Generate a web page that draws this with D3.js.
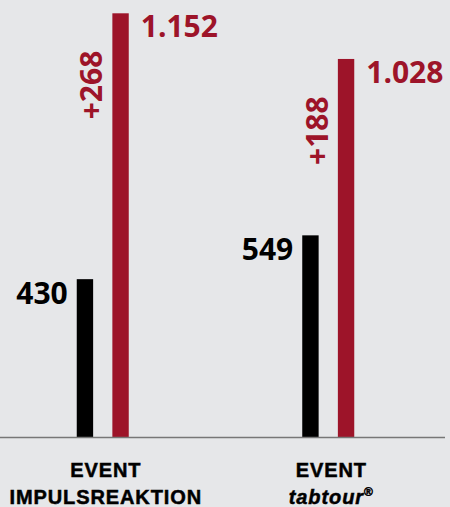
<!DOCTYPE html>
<html>
<head>
<meta charset="utf-8">
<script src="https://cdn.jsdelivr.net/npm/d3@7"></script>
<style>
  html, body { margin: 0; padding: 0; background: #e6e7e9; }
  svg { display: block; }
</style>
</head>
<body>
<div id="chart"></div>
<script>
'use strict';

// values
const categories = ['impuls', 'tabtour'];
const catLine1 = ['EVENT', 'EVENT'];
const catLine2 = ['IMPULSREAKTION', 'tabtour'];
const series = ['vorher', 'nachher'];
const before = [430, 549];
const after = [1152, 1028];
const diffLabels = ['+268', '+188'];

const width = 450;
const height = 507;
const red = '#9d1429';

const deFormat = d3.formatLocale({ decimal: ',', thousands: '.', grouping: [3], currency: ['', '€'] }).format(',d');

const svg = d3.select('#chart').append('svg')
  .attr('width', width)
  .attr('height', height);

svg.append('rect')
  .attr('width', width).attr('height', height)
  .attr('fill', '#e6e7e9');

const x0 = d3.scaleBand().domain(categories).range([-10, 441]);
const x1 = d3.scaleBand().domain(series).range([-26, 26]).paddingInner(0.54);
const y = d3.scaleLinear().domain([0, d3.max(after)]).range([437.5, 13.3]);

function center(i) {
  return x0(categories[i]) + x0.bandwidth() / 2;
}

const groups = svg.selectAll('g.group')
  .data(categories.map((c, i) => ({ c, i, before: before[i], after: after[i], diff: diffLabels[i] })))
  .join('g')
  .attr('class', 'group')
  .attr('transform', d => `translate(${center(d.i)},0)`);

// bars
groups.append('rect')
  .attr('x', x1('vorher'))
  .attr('width', x1.bandwidth())
  .attr('y', d => y(d.before))
  .attr('height', d => y(0) - y(d.before))
  .attr('fill', '#000');

groups.append('rect')
  .attr('x', x1('nachher'))
  .attr('width', x1.bandwidth())
  .attr('y', d => y(d.after))
  .attr('height', d => y(0) - y(d.after))
  .attr('fill', red);

// value labels
groups.append('text')
  .attr('x', x1('vorher') - 9)
  .attr('y', d => y(d.before) + 25)
  .attr('text-anchor', 'end')
  .attr('font-family', 'Open Sans, sans-serif')
  .attr('font-weight', 700)
  .attr('font-size', 30)
  .attr('fill', '#000')
  .text(d => deFormat(d.before));

groups.append('text')
  .attr('x', x1('nachher') + x1.bandwidth() + 12)
  .attr('y', d => y(d.after) + 24)
  .attr('font-family', 'Open Sans, sans-serif')
  .attr('font-weight', 700)
  .attr('font-size', 30)
  .attr('fill', red)
  .text(d => deFormat(d.after));

groups.append('text')
  .attr('transform', d => `translate(${x1('nachher') - 10},${y(d.after) + 106}) rotate(-90)`)
  .attr('font-family', 'Open Sans, sans-serif')
  .attr('font-weight', 700)
  .attr('font-size', 30)
  .attr('fill', red)
  .text(d => d.diff);

// baseline
svg.append('line')
  .attr('x1', 0).attr('x2', 445)
  .attr('y1', y(0)).attr('y2', y(0))
  .attr('stroke', '#777')
  .attr('stroke-width', 1.6);

// category labels
const catLabel = groups.append('text')
  .attr('text-anchor', 'middle')
  .attr('font-family', 'Liberation Sans, Arial, sans-serif')
  .attr('font-weight', 700)
  .attr('font-size', 20)
  .attr('letter-spacing', 0.9)
  .attr('fill', '#000')
  .attr('stroke', '#000')
  .attr('stroke-width', 0.5);

catLabel.append('tspan')
  .attr('x', 3)
  .attr('y', 476.5)
  .text(d => catLine1[d.i]);

catLabel.append('tspan')
  .attr('x', 3)
  .attr('y', 503.5)
  .attr('font-style', d => d.i === 1 ? 'italic' : null)
  .text(d => catLine2[d.i])
  .filter(d => d.i === 1)
  .append('tspan')
  .attr('font-size', 12)
  .attr('dy', -8)
  .attr('font-style', 'normal')
  .text('®');
</script>
</body>
</html>
